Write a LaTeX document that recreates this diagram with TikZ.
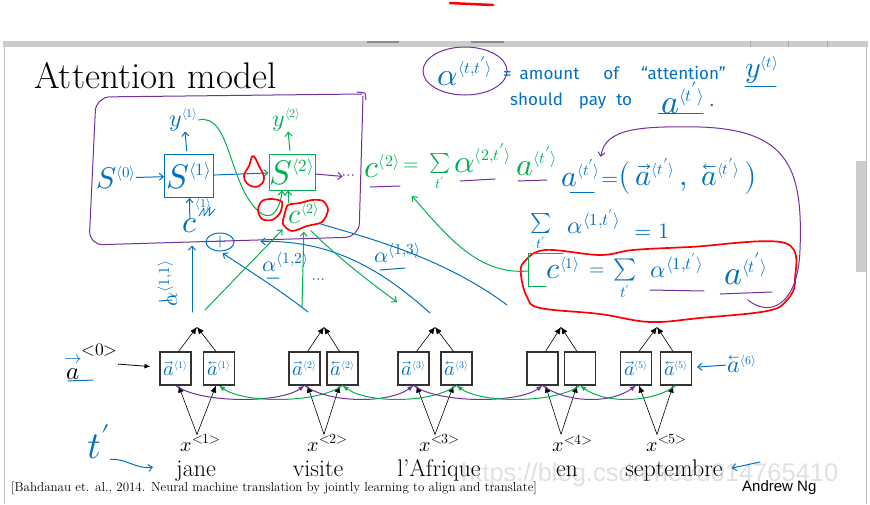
\documentclass[tikz,border=0pt]{standalone}
\usepackage{amsmath}
\usepackage{fontspec}
\usepackage{unicode-math}
\newfontfamily\handfont{Fira Sans}
\newfontfamily\arialfont{Liberation Sans}
\usepackage{tikz}
\usetikzlibrary{arrows.meta,shapes.geometric}
\definecolor{inkblue}{RGB}{0,112,192}
\definecolor{inkgreen}{RGB}{0,176,80}
\definecolor{inkpurple}{RGB}{112,48,160}
\definecolor{inkred}{RGB}{255,0,0}
\newcommand{\fsz}[1]{\fontsize{#1}{#1}\selectfont}
\newcommand{\sps}[1]{^{\scriptscriptstyle\langle#1\rangle}}
\newcommand{\fa}[1]{\ifx#1\empty\else$\overrightarrow{a}\sps{#1}$\fi}
\newcommand{\ba}[1]{\ifx#1\empty\else$\overleftarrow{a}\sps{#1}$\fi}

\begin{document}
\begin{tikzpicture}[x=1pt, y=-1pt, >={Straight Barb[length=4pt,width=7pt]},
  ink/.style={line width=1pt, line cap=round, line join=round},
  blu/.style={ink, draw=inkblue},
  grn/.style={ink, draw=inkgreen},
  prp/.style={ink, draw=inkpurple},
  blob/.style={ink, draw=inkred, line width=1.7pt},
  bl/.style={inner sep=0pt, text=inkblue},
  gl/.style={inner sep=0pt, text=inkgreen},
  cell/.style={draw=black!80, line width=1.1pt, minimum width=31pt, minimum height=33pt, inner sep=0pt, text=inkblue, font=\fsz{20}},
  up/.style={draw=black, line width=0.6pt, -{Latex[length=7pt,width=6pt]}},
  fwd/.style={prp, -{Latex[length=6pt,width=5pt]}},
  bwd/.style={grn, -{Latex[length=6pt,width=5pt]}},
  word/.style={inner sep=0pt, anchor=base, font=\fsz{24}},
  xin/.style={inner sep=0pt, font=\fsz{20}}]
\useasboundingbox (0,0) rectangle (870,504);
% window frame
\draw[inkred, line width=2.5pt, line cap=round] (450,3) .. controls (470,4) .. (493,5);
\fill[black!20] (3,41) rectangle (868,47);
\fill[black!45] (367,41) rectangle (399,43);
\fill[black!45] (471,41) rectangle (504,43);
\draw[black!35] (750,41) -- (750,47) (788,41) -- (788,47) (827,41) -- (827,47);
\draw[black!25] (4,47) -- (4,504) (866,47) -- (866,504);
\fill[black!20] (856,161) rectangle (866,272);
\node[anchor=base west, inner sep=0pt, text=black!12, font=\fsz{25.5}\arialfont] (mark) at (461,481) {https://blog.csdn.net/u014765410};

\node[anchor=base west, inner sep=0pt, font=\fsz{37}] (title) at (34,88) {Attention model};

% decoder
\draw[prp, rounded corners=14pt] (362,94) -- (96,97) -- (89,245) -- (359,237) -- (363,96);
\draw[prp] (357,92) -- (365,93) -- (366,100);
\node[bl, font=\fsz{30}] (s0) at (116,178) {$S\sps{0}$};
\node[draw=inkblue, line width=1pt, minimum width=49pt, minimum height=43pt, inner sep=0pt, text=inkblue, font=\fsz{34}] (s1) at (189,176) {$S\sps{1}$};
\node[draw=inkgreen, line width=1pt, minimum width=46pt, minimum height=36pt, inner sep=0pt, text=inkgreen, font=\fsz{34}] (s2) at (292,172) {$S\sps{2}$};
\node[bl, font=\fsz{24}] (y1) at (184,120) {$y\sps{1}$};
\node[gl, font=\fsz{24}] (y2) at (287,120) {$y\sps{2}$};
\node[inner sep=0pt, text=inkpurple, font=\fsz{16}] (sdots) at (349,177) {$\cdots$};
\node[bl, font=\fsz{32}] (c1) at (190,226) {$c$};
\node[bl, font=\fsz{12}] (c1sup) at (203,204) {$\langle1\rangle$};
\node[draw=inkblue, line width=1pt, ellipse, minimum width=28pt, minimum height=18pt, inner sep=0pt, text=inkblue, font=\fsz{18}] (plus) at (220,242) {$+$};
\node[gl, font=\fsz{28}] (c2) at (304,213) {$c\sps{2}$};
\draw[blu,->] (s0) -- (s1);
\draw[blu,->,shorten <=3pt] (s1) -- (y1);
\draw[grn,->,shorten <=3pt] (s2) -- (y2);
\draw[blu,-{Straight Barb[length=4pt,width=7pt,color=inkgreen]}] (s1) -- (s2);
\draw[prp,->] (s2) -- (sdots);
\draw[blu,->] (c1) -- (s1);
\draw[grn,->] (c2.north west) -- (c2.north west |- s2.south);
\draw[grn,->] (y1.east) .. controls (232,112) and (228,190) .. (262,214) .. controls (274,221) and (281,205) .. ([xshift=-10pt]s2.south);
\draw[blu, line width=0.8pt] (199,216) -- (204,208) -- (204,216) -- (210,207) -- (209,216) -- (215,209);
\draw[blob] plot[smooth cycle, tension=0.7] coordinates {(253,156) (259,166) (264,178) (259,186) (249,185) (244,176) (249,166)};
\draw[blob] plot[smooth cycle] coordinates {(262,201) (272,199) (282,202) (280,213) (272,220) (262,219) (258,210)};
\draw[blob] plot[smooth cycle] coordinates {(288,205) (300,203) (312,200) (323,201) (328,210) (322,222) (307,226) (292,231) (283,224) (285,213)};

% attention weights
\coordinate (w1) at (192,312);
\coordinate (w2) at (308,312);
\coordinate (w3) at (430,313);
\coordinate (w4) at (507,305);
\draw[blu,->,shorten >=12pt] (w1) -- (w1 |- c1.south);
\draw[blu,->,shorten >=3pt] (w2) .. controls (280,290) and (245,268) .. (plus.south);
\draw[blu,->,shorten >=26pt] (w3) .. controls (380,268) and (330,240) .. (plus.east);
\draw[blu] (c2.south east) .. controls (360,236) and (440,255) .. (w4);
\coordinate (g1) at (205,310);
\coordinate (g2) at (302,308);
\coordinate (g3) at (397,302);
\draw[grn,->,shorten >=8pt] (g1) -- (c2.south west);
\draw[grn,->,shorten >=8pt] (g2) -- (c2.south);
\draw[grn,->,shorten <=10pt] (c2.south) .. controls (330,250) and (360,275) .. (g3);
\node[bl, rotate=90, font=\fsz{22}] (a11) at (168,283) {$\alpha^{\langle1,1\rangle}$};
\node[bl, font=\fsz{22}] (a12) at (286,262) {$\alpha^{\langle1,2\rangle}$};
\node[bl, font=\fsz{16}] (wdots) at (319,281) {$\cdots$};
\node[bl, font=\fsz{22}] (a13) at (398,253) {$\alpha^{\langle1,3\rangle}$};
\draw[blu] (159,301) -- (172,300) (267,278) -- (279,278) (380,270) -- (405,268);

% notes on the right
\node[ellipse, draw=inkpurple, line width=1pt, minimum width=84pt, minimum height=48pt, inner sep=0pt, text=inkblue, font=\fsz{32}] (attn) at (465,71) {$\alpha\sps{t,t'}$};
\node[bl, anchor=west, font=\fsz{17}\handfont] (def1) at (503,73) {=\hspace{8pt}amount\hspace{24pt}of\hspace{22pt}“attention”};
\node[bl, font=\fsz{30}] (yt) at (762,70) {$y\sps{t}$};
\node[bl, anchor=west, font=\fsz{17}\handfont] (def2) at (510,101) {should\hspace{16pt}pay\hspace{10pt}to};
\node[bl, font=\fsz{34}] (at) at (683,98) {$a\sps{t'}$};
\node[bl, font=\fsz{17}\handfont] (dot) at (712,106) {.};
\draw[blu] (745,86) -- (776,86) (658,113) -- (703,113);
\node[gl, font=\fsz{32}] (ctwo) at (382,166) {$c\sps{2}$};
\node[gl, font=\fsz{20}] (eqtwo) at (411,167) {$=$};
\node[gl, font=\fsz{20}] (sumtwo) at (440,172) {$\sum\limits_{t'}$};
\node[gl, font=\fsz{32}] (altwo) at (483,158) {$\alpha\sps{2,t'}$};
\node[gl, font=\fsz{32}] (atwo) at (537,161) {$a\sps{t'}$};
\draw[prp] (370,187) -- (400,186) (460,181) -- (495,179) (518,181) -- (547,180);
\node[bl, font=\fsz{30}] (adef) at (581,173) {$a\sps{t'}$};
\node[bl, anchor=west, font=\fsz{22}] (adefr) at (601,177) {$=${\fsz{30}$\bigl(\,\overrightarrow{a}\sps{t'}\,,\;\overleftarrow{a}\sps{t'}\,\bigr)$}};
\draw[blu] (570,192) -- (594,192);
\node[bl, font=\fsz{20}] (sumone) at (541,232) {$\sum\limits_{t'}$};
\node[bl, font=\fsz{24}] (alone) at (594,222) {$\alpha^{\langle1,t'\rangle}$};
\node[bl, font=\fsz{22}] (eqone) at (652,231) {$=1$};
\node[bl, font=\fsz{30}] (cone) at (563,268) {$c\sps{1}$};
\node[bl, font=\fsz{20}] (eqc) at (597,272) {$=$};
\node[bl, font=\fsz{22}] (sumc) at (625,280) {$\sum\limits_{t'}$};
\node[bl, font=\fsz{24}] (alc) at (677,266) {$\alpha^{\langle1,t'\rangle}$};
\node[bl, font=\fsz{34}] (ac) at (746,269) {$a\sps{t'}$};
\draw[prp] (650,290) -- (704,291) (720,294) -- (772,292);
\draw[blob] plot[smooth cycle, tension=0.6] coordinates {(524,262) (545,250) (600,255) (633,250) (690,247) (785,243) (795,280) (787,300) (767,311) (700,318) (650,322) (600,314) (540,308) (527,297) (521,275)};
\draw[grn] (563,253) -- (528,253) -- (528,286) -- (546,286);
\coordinate (brk) at (528,271);
\coordinate (g5) at (412,196);
\draw[grn,->] (brk) .. controls (480,275) and (450,240) .. (g5);
\coordinate (pa) at (748,300);
\draw[prp,->,shorten >=2pt] (pa) .. controls (770,318) and (798,305) .. (800,250) .. controls (803,170) and (790,130) .. (700,127) .. controls (640,126) and (605,128) .. (adef.north east);

% encoder
\foreach \n/\xf/\xb/\xp/\xl/\xw/\lab/\wrd in {1/175.5/219/197/201/196/1/jane, 2/304.5/342.5/324/328/318/2/visite, 3/413.5/456.5/435/440/439/3/l’Afrique, 4/542.5/580/561/573/567//en, 5/636/676/657/667/674/5/septembre} {
  \node[cell] (f\n) at (\xf,368.5) {\fa{\lab}};
  \node[cell] (b\n) at (\xb,368.5) {\ba{\lab}};
  \coordinate (p\n) at (\xp,327);
  \draw[up] ([xshift=3pt]f\n.north) -- (p\n);
  \draw[up] ([xshift=-3pt]b\n.north) -- (p\n);
  \node[xin] (x\n) at (\xl,443) {$x^{<\n>}$};
  \draw[up] (x\n.north -| p\n) -- ([xshift=3pt]f\n.south);
  \draw[up] (x\n.north -| p\n) -- ([xshift=-3pt]b\n.south);
  \node[word] (w\n) at (\xw,476) {\wrd};
}
\foreach \a/\b in {1/2,2/3,3/4,4/5} {
  \draw[fwd] (f\a.south) .. controls +(25,18) and +(-25,18) .. (f\b.south);
  \draw[bwd] (b\b.south) .. controls +(-25,18) and +(25,18) .. (b\a.south);
}
\node[inner sep=0pt, font=\fsz{25}] (a0) at (91,362) {$\overset{\textcolor{inkblue}{\rightarrow}}{a}^{<0>}$};
\draw[blu] (68,381) -- (93,380);
\draw[-{Latex[length=6pt,width=5pt]}, line width=0.8pt, shorten >=9pt] (a0) -- (f1);
\node[bl, font=\fsz{24}] (a6) at (742,364) {$\overleftarrow{a}\sps{6}$};
\draw[blu,->,shorten <=2pt,shorten >=5pt] (a6) -- (b5);
\node[bl, font=\fsz{38}] (tp) at (99,442) {$t'$};
\coordinate (tj) at (153,467);
\draw[blu,->] (tp.south east) .. controls (125,458) and (138,470) .. (tj);
\coordinate (sp) at (760,462);
\draw[blu,->,shorten >=9pt] (sp) -- (w5.east);

\node[anchor=base west, inner sep=0pt, font=\fsz{13}] (cite) at (11,491) {[Bahdanau et. al., 2014. Neural machine translation by jointly learning to align and translate]};
\node[anchor=base west, inner sep=0pt, font=\fsz{15}\arialfont] (author) at (742,491) {Andrew Ng};
\end{tikzpicture}
\end{document}
